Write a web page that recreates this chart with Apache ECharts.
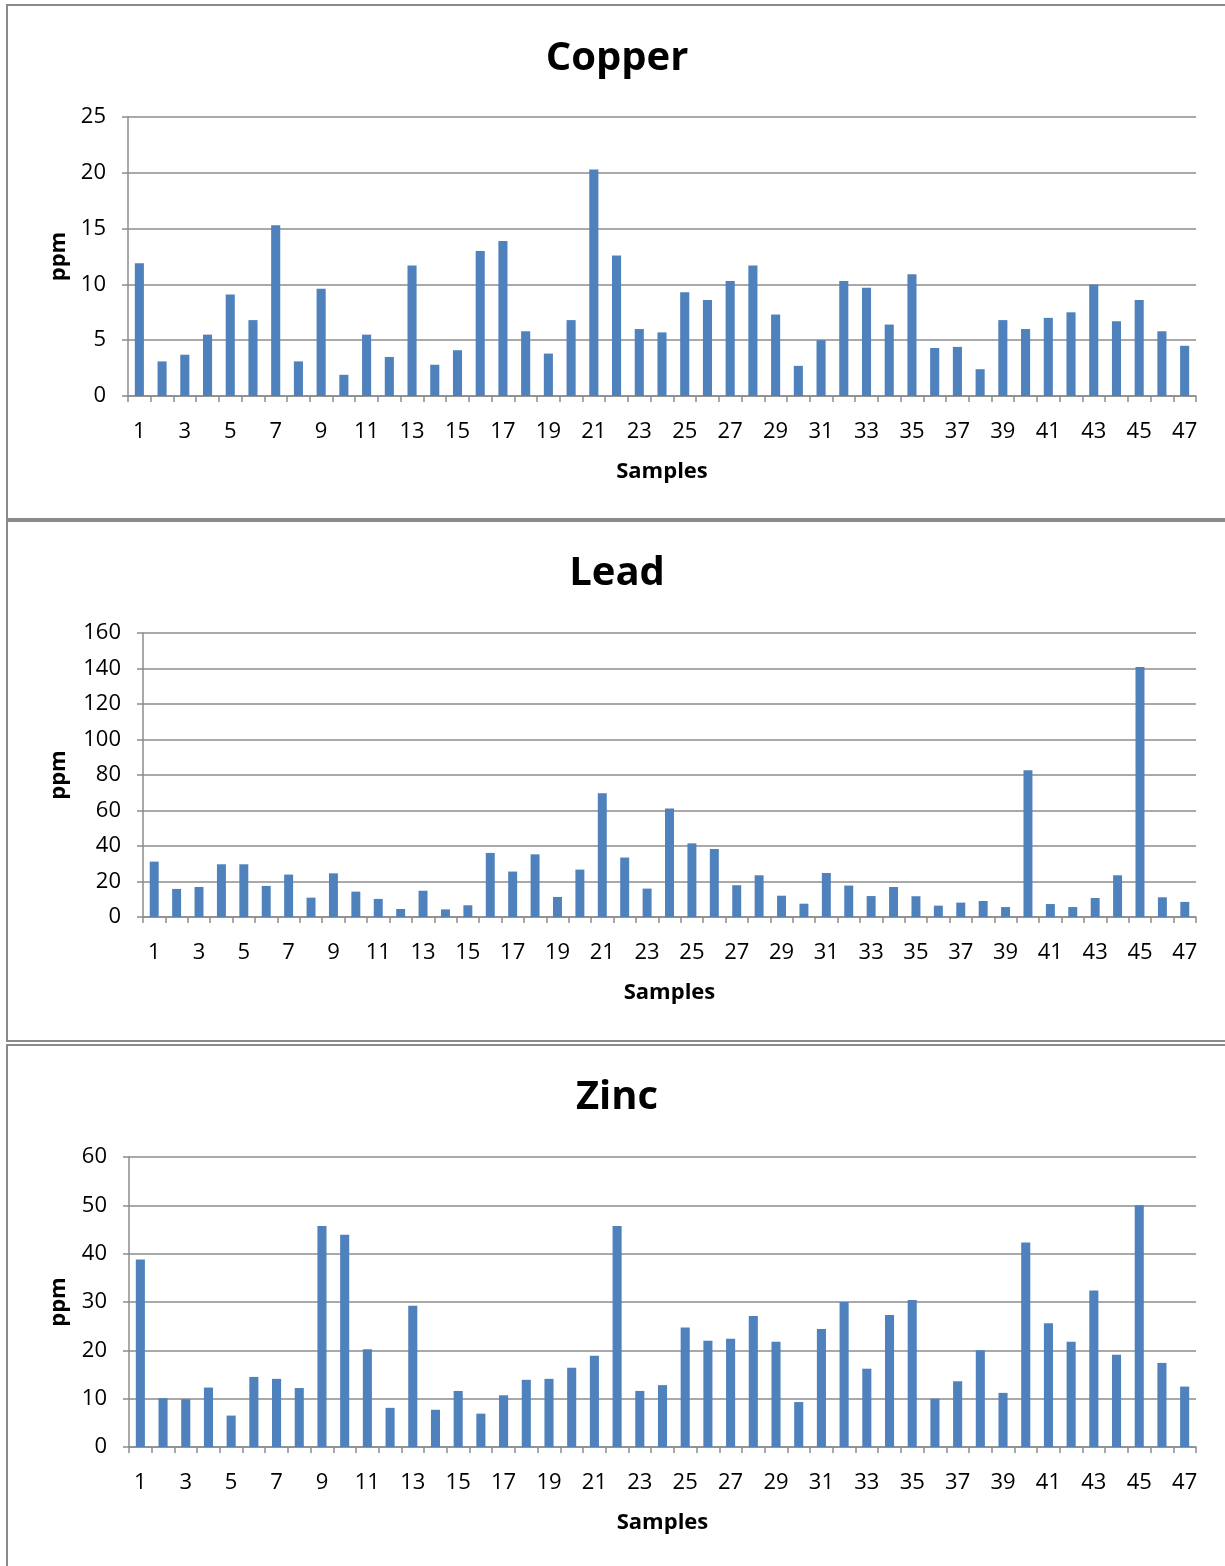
<!DOCTYPE html>
<html>
<head>
<meta charset="utf-8">
<script src="https://cdn.jsdelivr.net/npm/echarts@6/dist/echarts.min.js"></script>
<style>
html,body{margin:0;padding:0;background:#fff;}
#c{width:1225px;height:1566px;}
</style>
</head>
<body>
<div id="c"></div>
<script>
const samples = Array.from({length: 47}, (_, i) => String(i + 1));

const copper = [11.9,3.1,3.7,5.5,9.1,6.8,15.3,3.1,9.6,1.9,5.5,3.5,11.7,2.8,4.1,13.0,13.9,5.8,3.8,6.8,
  20.3,12.6,6.0,5.7,9.3,8.6,10.3,11.7,7.3,2.7,5.0,10.3,9.7,6.4,10.9,4.3,4.4,2.4,6.8,6.0,
  7.0,7.5,10.0,6.7,8.6,5.8,4.5];

const lead = [31.2,15.8,16.9,29.7,29.7,17.5,23.9,10.9,24.6,14.3,10.2,4.5,14.8,4.3,6.6,36.1,25.6,35.3,11.3,26.7,
  69.7,33.5,16.0,61.1,41.5,38.3,17.9,23.5,12.0,7.5,24.8,17.7,11.8,16.9,11.7,6.4,8.1,9.0,5.6,82.7,
  7.3,5.6,10.7,23.5,140.8,11.1,8.5];

const zinc = [38.8,10.1,9.9,12.3,6.5,14.5,14.1,12.2,45.7,43.9,20.2,8.1,29.2,7.7,11.6,6.9,10.7,13.9,14.1,16.4,
  18.9,45.7,11.6,12.8,24.7,22.0,22.4,27.1,21.8,9.3,24.4,30.0,16.2,27.3,30.4,10.0,13.6,20.0,11.2,42.3,
  25.6,21.8,32.4,19.1,50.0,17.4,12.5];

const titles = ['Copper', 'Lead', 'Zinc'];
const yMax = [25, 160, 60];
const yInterval = [5, 20, 10];
const xAxisName = 'Samples';
const yAxisName = 'ppm';

const FONT = 'Open Sans';
const gridLine = '#8c8c8c';
const barColor = '#4f81bd';

const grids = [
  {left: 128, top: 117, width: 1068, height: 279},
  {left: 143, top: 633, width: 1053, height: 284},
  {left: 129, top: 1157, width: 1067, height: 290}
];
const titleY = [59, 574, 1098];
const nameGap = [58, 73, 59];
const seriesData = [copper, lead, zinc];

const chart = echarts.init(document.getElementById('c'), null, {renderer: 'canvas'});

const option = {
  animation: false,
  backgroundColor: '#fff',
  grid: grids.map(g => Object.assign({containLabel: false}, g)),
  xAxis: grids.map((g, i) => ({
    type: 'category',
    gridIndex: i,
    data: samples,
    name: xAxisName,
    nameLocation: 'middle',
    nameGap: 65,
    nameTextStyle: {fontFamily: FONT, fontWeight: 'bold', fontSize: 22, color: '#000'},
    axisLine: {show: true, lineStyle: {color: gridLine, width: 1.5}},
    axisTick: {show: true, interval: 0, length: 6, lineStyle: {color: gridLine, width: 1.5}},
    axisLabel: {interval: 1, margin: 25, fontFamily: FONT, fontSize: 22, color: '#000'},
    splitLine: {show: false}
  })),
  yAxis: grids.map((g, i) => ({
    type: 'value',
    gridIndex: i,
    min: 0,
    max: yMax[i],
    interval: yInterval[i],
    name: yAxisName,
    nameLocation: 'middle',
    nameGap: nameGap[i],
    nameRotate: 90,
    nameTextStyle: {fontFamily: FONT, fontWeight: 'bold', fontSize: 22, color: '#000'},
    axisLine: {show: true, lineStyle: {color: gridLine, width: 1.5}},
    axisTick: {show: true, length: 6, lineStyle: {color: gridLine, width: 1.5}},
    axisLabel: {margin: 22, fontFamily: FONT, fontSize: 22, color: '#000'},
    splitLine: {show: true, lineStyle: {color: gridLine, width: 1.5}}
  })),
  series: seriesData.map((d, i) => ({
    type: 'bar',
    xAxisIndex: i,
    yAxisIndex: i,
    data: d,
    barCategoryGap: '60%',
    itemStyle: {color: barColor}
  })),
  graphic: [
    {type: 'rect', shape: {x: 7, y: 5, width: 1240, height: 514}, style: {fill: 'none', stroke: '#8a8a8a', lineWidth: 2}, z: 100},
    {type: 'rect', shape: {x: 7, y: 521, width: 1240, height: 520}, style: {fill: 'none', stroke: '#8a8a8a', lineWidth: 2}, z: 100},
    {type: 'rect', shape: {x: 7, y: 1045, width: 1240, height: 540}, style: {fill: 'none', stroke: '#8a8a8a', lineWidth: 2}, z: 100}
  ].concat(titles.map((t, i) => ({
    type: 'text',
    x: 617,
    y: titleY[i],
    style: {text: t, fontFamily: FONT, fontWeight: 'bold', fontSize: 40, fill: '#000', align: 'center', verticalAlign: 'middle'},
    z: 100
  })))
};

chart.setOption(option);
</script>
</body>
</html>
